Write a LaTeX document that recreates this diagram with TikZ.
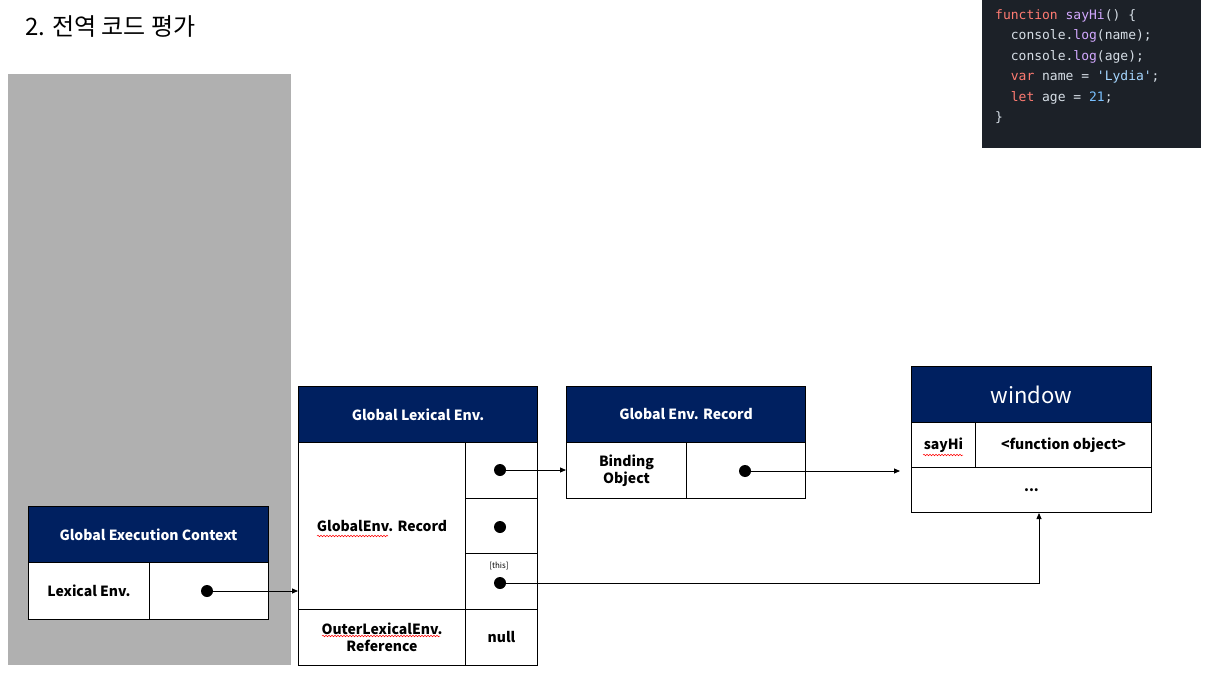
\documentclass[tikz,border=0pt]{standalone}
\usepackage{fontspec}
\setmainfont{Noto Sans CJK KR}
\newfontfamily\codefont{DejaVu Sans Mono}
\usetikzlibrary{arrows.meta,decorations.pathmorphing}
\definecolor{navy}{HTML}{002060}
\definecolor{panel}{HTML}{B0B0B0}
\definecolor{codebg}{HTML}{1C2128}
\definecolor{ckw}{HTML}{FF7B72}
\definecolor{cfn}{HTML}{D2A8FF}
\definecolor{ctx}{HTML}{D6DEE6}
\definecolor{cstr}{HTML}{A5D6FF}
\definecolor{cnum}{HTML}{79C0FF}
\tikzset{
  cell/.style={draw=black,line width=1pt,fill=white,anchor=north west,inner sep=0pt,
    font=\fontsize{14}{17}\selectfont\bfseries,align=center},
  head/.style={cell,fill=navy,text=white},
  dot/.style={circle,fill=black,inner sep=0pt,minimum size=12pt},
  arr/.style={-{Triangle[length=6pt,width=5pt]},line width=0.8pt},
  squig/.style={red,line width=0.5pt,decorate,decoration={snake,amplitude=0.8pt,segment length=3pt}},
  codeline/.style={anchor=west,inner sep=0pt,font=\codefont\fontsize{13}{15}\selectfont,text=ctx}
}
\begin{document}
\begin{tikzpicture}[x=1pt,y=-1pt]
\useasboundingbox (0,0) rectangle (1211,677);
% title
\node[anchor=west,inner sep=0pt,font=\fontsize{24}{28}\selectfont] (title) at (25,27) {2. 전역 코드 평가};
% gray panel
\fill[panel] (8,74) rectangle (291,665);
% code box
\fill[codebg] (982,0) rectangle (1201,148);
\node[codeline] (c1) at (995,16) {\textcolor{ckw}{function} \textcolor{cfn}{sayHi}() \{};
\node[codeline] (c2) at (995,36) {\ \ console.\textcolor{cfn}{log}(name);};
\node[codeline] (c3) at (995,57) {\ \ console.\textcolor{cfn}{log}(age);};
\node[codeline] (c4) at (995,77) {\ \ \textcolor{ckw}{var} name = \textcolor{cstr}{'Lydia'};};
\node[codeline] (c5) at (995,98) {\ \ \textcolor{ckw}{let} age = \textcolor{cnum}{21};};
\node[codeline] (c6) at (995,118) {\}};

% Global Execution Context
\node[head,minimum width=240pt,minimum height=56pt] (gech) at (28,506) {Global Execution Context};
\node[cell,minimum width=121pt,minimum height=57pt] (gelex) at (28,562) {Lexical Env.};
\node[cell,minimum width=119pt,minimum height=57pt] (geval) at (149,562) {};
\node[dot] (d0) at (207,591) {};

% Global Lexical Env.
\node[head,minimum width=239pt,minimum height=56pt] (gleh) at (298,386) {Global Lexical Env.};
\node[cell,minimum width=167pt,minimum height=167pt] (glrec) at (298,442) {GlobalEnv. Record};
\node[cell,minimum width=167pt,minimum height=56pt] (glouter) at (298,609) {OuterLexicalEnv.\\Reference};
\node[cell,minimum width=72pt,minimum height=56pt] (glr1) at (465,442) {};
\node[cell,minimum width=72pt,minimum height=55pt] (glr2) at (465,498) {};
\node[cell,minimum width=72pt,minimum height=56pt] (glr3) at (465,553) {};
\node[cell,minimum width=72pt,minimum height=56pt] (glnull) at (465,609) {null};
\node[dot] (d1) at (500,470) {};
\node[dot] (d2) at (500,527) {};
\node[dot] (d3) at (500,583) {};
\node[inner sep=0pt,font=\fontsize{8}{9}\selectfont] (thislbl) at (499,566) {[this]};

% Global Env. Record
\node[head,minimum width=239pt,minimum height=56pt] (gerh) at (566,386) {Global Env. Record};
\node[cell,minimum width=120pt,minimum height=56pt] (gerb) at (566,442) {Binding\\Object};
\node[cell,minimum width=119pt,minimum height=56pt] (gerv) at (686,442) {};
\node[dot] (d4) at (745,471) {};

% window
\node[head,minimum width=240pt,minimum height=56pt,font=\fontsize{22}{26}\selectfont] (winh) at (911,366) {window};
\node[cell,minimum width=64pt,minimum height=45pt] (wsay) at (911,422) {sayHi};
\node[cell,minimum width=176pt,minimum height=45pt] (wfun) at (975,422) {<function object>};
\node[cell,minimum width=240pt,minimum height=45pt] (wdots) at (911,467) {...};

% squiggles
\draw[squig] (317,536) -- (388,536);
\draw[squig] (322,636) -- (440,636);
\draw[squig] (923,455) -- (963,455);

% connectors
\coordinate (e4) at (900,471);
\coordinate (bend) at (1039,583);
\draw[arr] (d0.center) -- (d0.center -| gleh.west);
\draw[arr] (d1.center) -- (d1.center -| gerh.west);
\draw[arr] (d4.center) -- (e4);
\draw[arr] (d3.center) -- (bend) -- (bend |- wdots.south);
\end{tikzpicture}
\end{document}
